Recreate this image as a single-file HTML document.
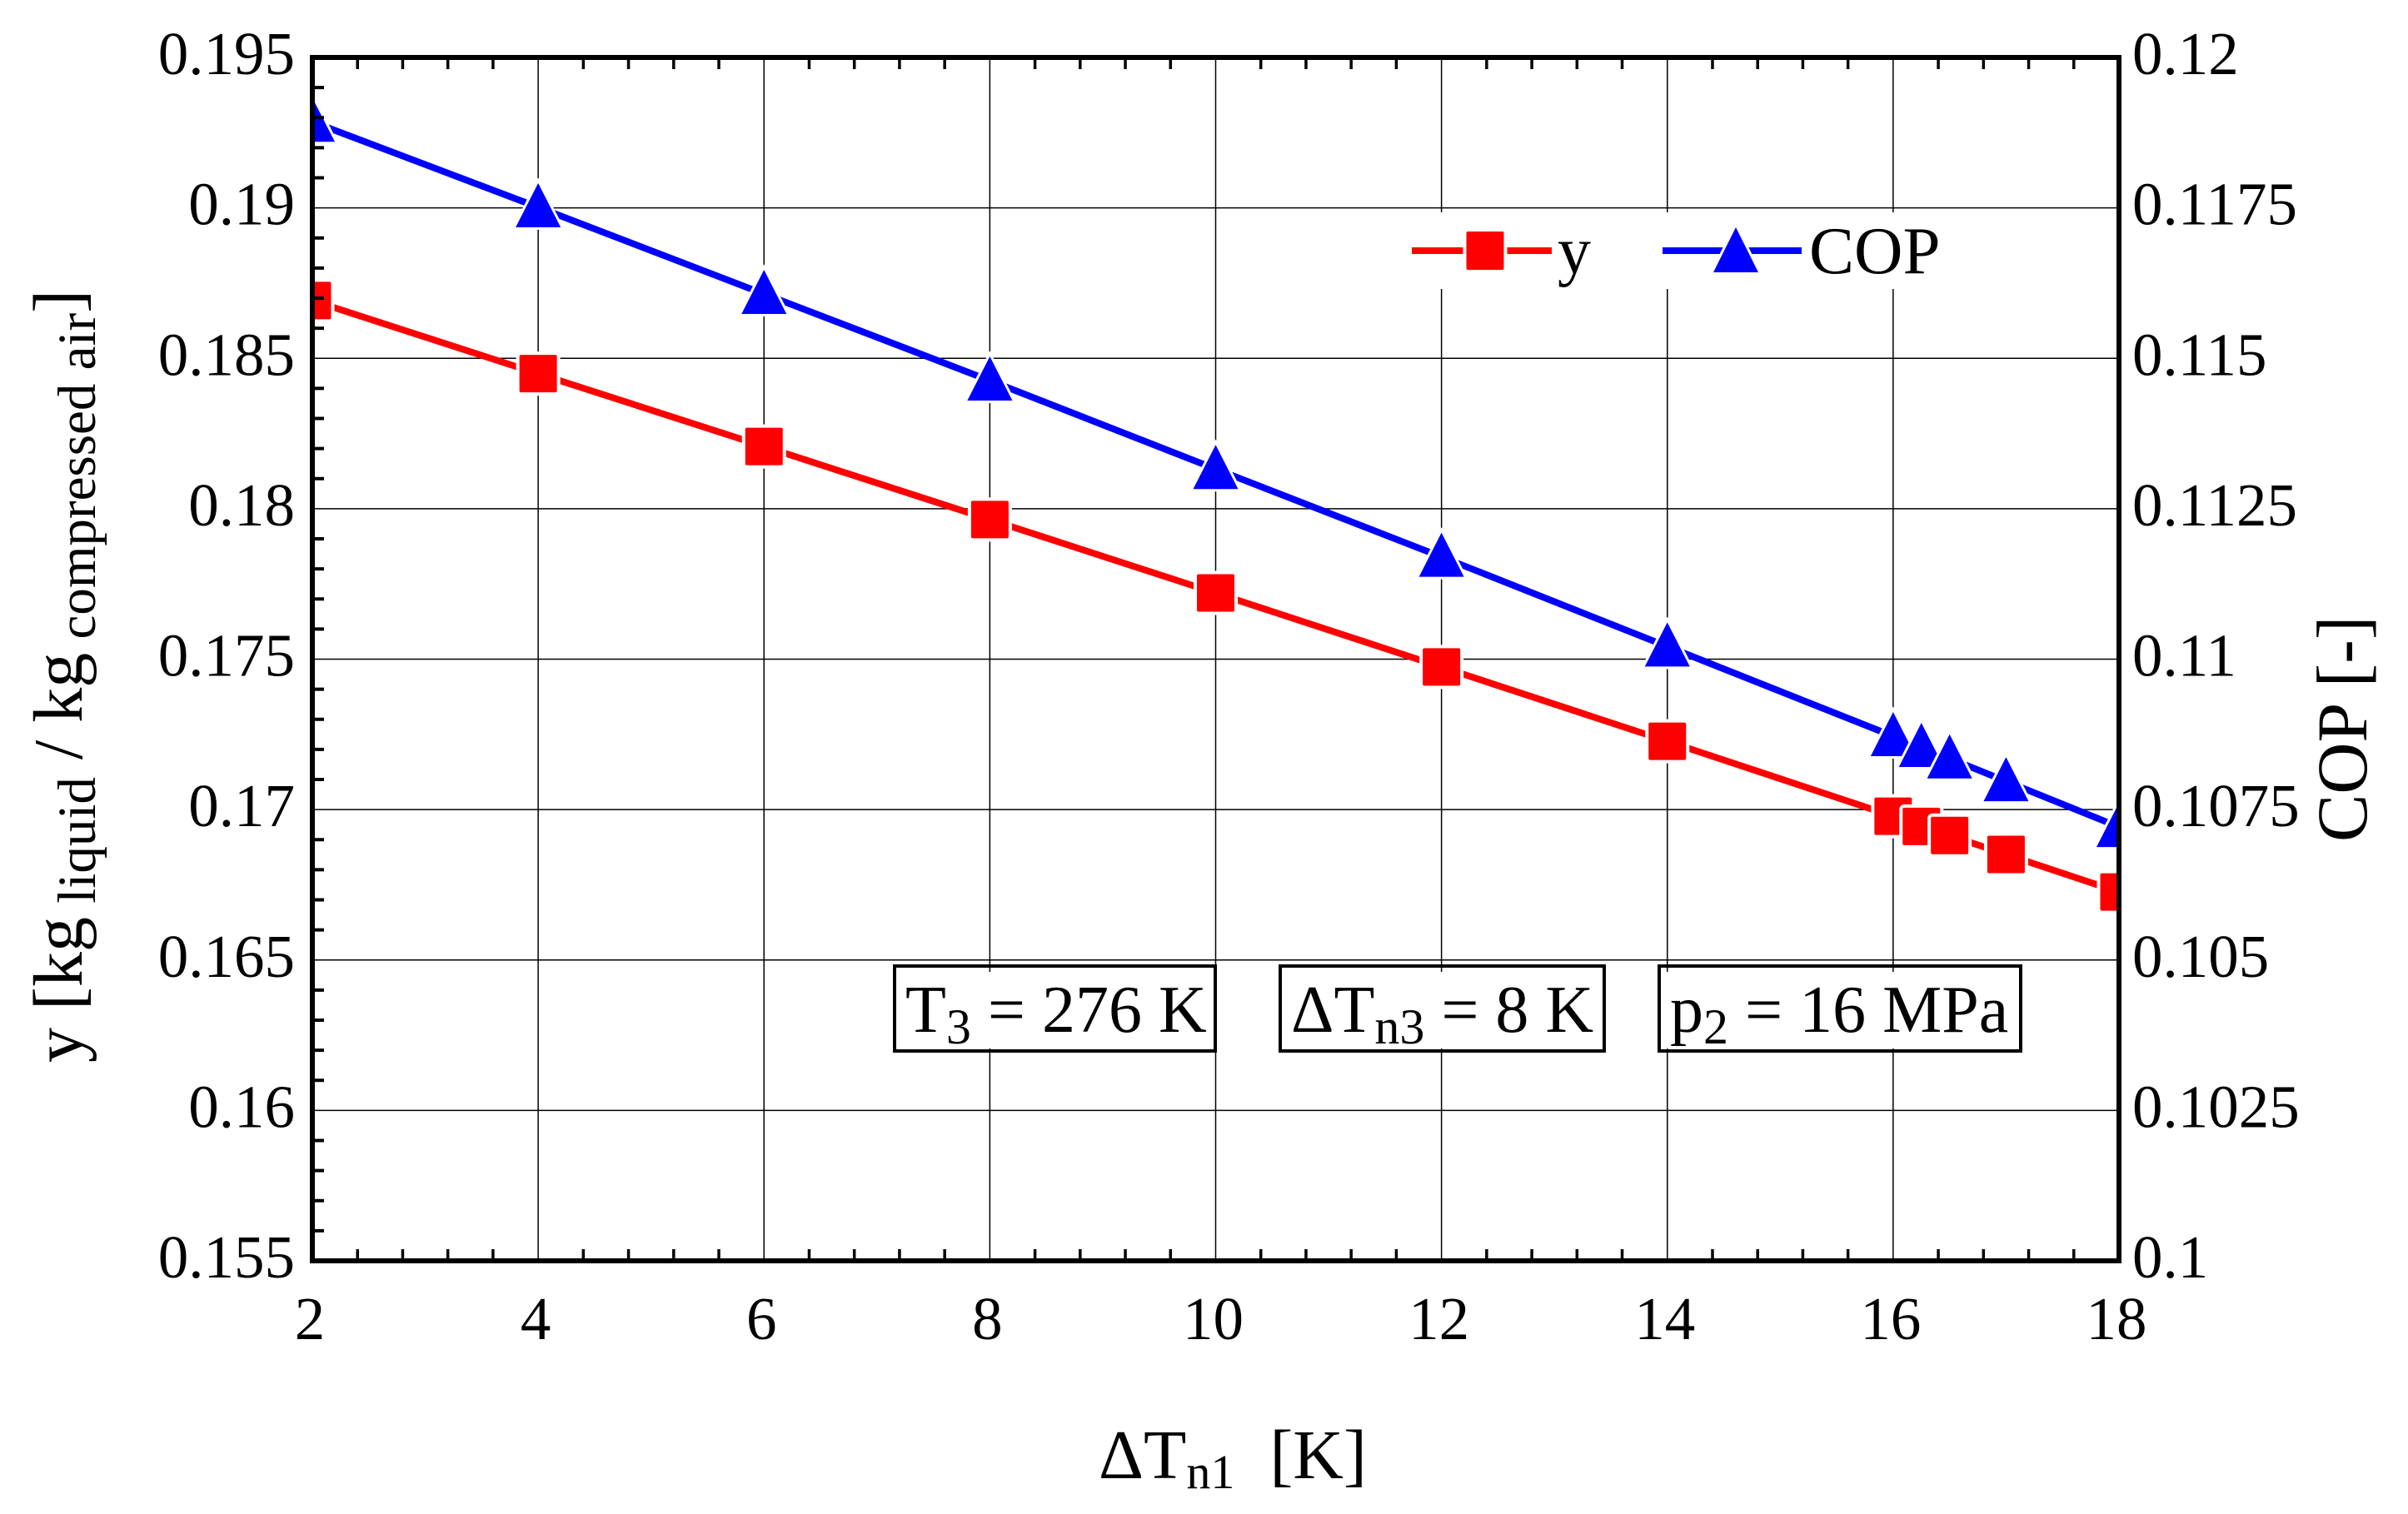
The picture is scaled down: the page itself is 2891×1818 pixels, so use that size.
<!DOCTYPE html>
<html>
<head>
<meta charset="utf-8">
<title>y and COP vs temperature difference</title>
<style>
html,body{margin:0;padding:0;background:#fff;}
svg{display:block;}
text{font-family:"Liberation Serif",serif;fill:#000;}
</style>
</head>
<body>
<svg id="chart" xmlns="http://www.w3.org/2000/svg" width="2891" height="1818" viewBox="0 0 2891 1818">
<rect x="0" y="0" width="2891" height="1818" fill="#fff"/>
<defs><clipPath id="plot-clip"><rect x="375" y="69" width="2169" height="1445"/></clipPath></defs>
<g id="grid"></g>
<rect x="1680" y="255" width="660" height="92" fill="#fff"/>
<g id="series" clip-path="url(#plot-clip)"></g>
<g id="axes"></g>
<g id="labels"></g>

<g>
  <g>
    <line x1="1695" y1="301" x2="1863" y2="301" stroke="#f00" stroke-width="8"/>
    <rect x="1760.5" y="278" width="45" height="46" rx="2" fill="#f00" stroke="#fff" stroke-width="8" paint-order="stroke"/>
    <text x="1870" y="328" font-size="80">y</text>
  </g>
  <g>
    <line x1="1996" y1="301" x2="2163" y2="301" stroke="#00f" stroke-width="8"/>
    <polygon points="2084,273 2111,327 2057,327" fill="#00f" stroke="#fff" stroke-width="6" paint-order="stroke"/>
    <text x="2172" y="328" font-size="81">COP</text>
  </g>
</g>

<g>
  <rect x="1074" y="1167" width="385" height="92" fill="#fff"/>
  <rect x="1074" y="1160" width="385" height="102" fill="none" stroke="#000" stroke-width="4"/>
  <text x="1087" y="1239" font-size="80">T<tspan font-size="60" dy="14">3</tspan><tspan dy="-14"> = 276 K</tspan></text>
</g>
<g>
  <rect x="1537" y="1167" width="389" height="92" fill="#fff"/>
  <rect x="1537" y="1160" width="389" height="102" fill="none" stroke="#000" stroke-width="4"/>
  <text x="1550" y="1239" font-size="80">ΔT<tspan font-size="60" dy="14">n3</tspan><tspan dy="-14"> = 8 K</tspan></text>
</g>
<g>
  <rect x="1992" y="1167" width="434" height="92" fill="#fff"/>
  <rect x="1992" y="1160" width="434" height="102" fill="none" stroke="#000" stroke-width="4"/>
  <text x="2005" y="1239" font-size="80">p<tspan font-size="60" dy="14">2</tspan><tspan dy="-14"> = 16 MPa</tspan></text>
</g>

<text x="1319" y="1775" font-size="84">ΔT<tspan font-size="58" dy="12">n1</tspan><tspan dy="-12" xml:space="preserve">  [K]</tspan></text>
<text transform="translate(98,1276) rotate(-90)" font-size="84">y [kg<tspan font-size="65" dy="16"> liquid</tspan><tspan dy="-16"> / kg</tspan><tspan font-size="65" dy="16"> compressed air</tspan><tspan dy="-16">]</tspan></text>
<text transform="translate(2841,1011) rotate(-90)" font-size="86">COP [-]</text>
</svg>

<script>
const xTicks = [2, 4, 6, 8, 10, 12, 14, 16, 18];
const yTicks = [0.155, 0.16, 0.165, 0.17, 0.175, 0.18, 0.185, 0.19, 0.195];
const copTicks = [0.1, 0.1025, 0.105, 0.1075, 0.11, 0.1125, 0.115, 0.1175, 0.12];
const yTickLabels = ['0.155', '0.16', '0.165', '0.17', '0.175', '0.18', '0.185', '0.19', '0.195'];
const copTickLabels = ['0.1', '0.1025', '0.105', '0.1075', '0.11', '0.1125', '0.115', '0.1175', '0.12'];
const xValues = [2, 4, 6, 8, 10, 12, 14, 16, 16.25, 16.5, 17, 18];
const yValues = [0.18692, 0.18449, 0.18207, 0.17964, 0.17720, 0.17474, 0.17227, 0.16978, 0.16944, 0.16914, 0.16851, 0.16726];
const copValues = [0.11893, 0.11751, 0.11607, 0.11463, 0.11316, 0.11170, 0.11021, 0.10872, 0.10854, 0.10835, 0.10797, 0.10721];

const NS = 'http://www.w3.org/2000/svg';
const L = 375, R = 2544, T = 69, B = 1514;
const sx = v => L + (v - 2) / (18 - 2) * (R - L);
const sy = v => B - (v - 0.155) / (0.195 - 0.155) * (B - T);
const sc = v => B - (v - 0.1) / (0.12 - 0.1) * (B - T);

function mk(parent, tag, attrs) {
  const el = document.createElementNS(NS, tag);
  for (const k in attrs) el.setAttribute(k, attrs[k]);
  parent.appendChild(el);
  return el;
}

const grid = document.getElementById('grid');
const axes = document.getElementById('axes');
const labels = document.getElementById('labels');
const series = document.getElementById('series');

xTicks.slice(1, -1).forEach(v => {
  const el = mk(grid, 'line', {x1: sx(v), y1: T, x2: sx(v), y2: B, stroke: '#000', 'stroke-width': 1.5});
  
  
});
yTicks.slice(1, -1).forEach(v => {
  const el = mk(grid, 'line', {x1: L, y1: sy(v), x2: R, y2: sy(v), stroke: '#000', 'stroke-width': 1.5});
  
  
});

function drawSeries(values, scale, color, kind) {
  const pts = xValues.map((x, i) => sx(x) + ',' + scale(values[i])).join(' ');
  const line = mk(series, 'polyline', {points: pts, fill: 'none', stroke: color, 'stroke-width': 8});
  
  
  xValues.forEach((x, i) => {
    const cx = sx(x), cy = scale(values[i]);
    let m;
    if (kind === 'square') {
      m = mk(series, 'rect', {x: cx - 22.5, y: cy - 22.5, width: 45, height: 45, rx: 2, fill: color, stroke: '#fff', 'stroke-width': 8, 'paint-order': 'stroke'});
    } else {
      m = mk(series, 'polygon', {points: cx + ',' + (cy - 29) + ' ' + (cx + 27) + ',' + (cy + 24) + ' ' + (cx - 27) + ',' + (cy + 24), fill: color, stroke: '#fff', 'stroke-width': 6, 'paint-order': 'stroke'});
    }
    
    
  });
}
drawSeries(yValues, sy, '#f00', 'square');
drawSeries(copValues, sc, '#00f', 'triangle');

for (let i = 0; i < xTicks.length - 1; i++) {
  for (let j = 1; j < 5; j++) {
    const px = sx(xTicks[i] + (xTicks[i + 1] - xTicks[i]) * j / 5);
    const top = mk(axes, 'line', {x1: px, y1: T, x2: px, y2: T + 14, stroke: '#000', 'stroke-width': 3.5});
    
    
    const bot = mk(axes, 'line', {x1: px, y1: B, x2: px, y2: B - 14, stroke: '#000', 'stroke-width': 3.5});
    
    
  }
}
for (let i = 0; i < yTicks.length - 1; i++) {
  for (let j = 1; j < 5; j++) {
    const py = sy(yTicks[i] + (yTicks[i + 1] - yTicks[i]) * j / 5);
    const t = mk(axes, 'line', {x1: L, y1: py, x2: L + 14, y2: py, stroke: '#000', 'stroke-width': 4});
    
    
  }
}
const frame = mk(axes, 'rect', {x: L, y: T, width: R - L, height: B - T, fill: 'none', stroke: '#000', 'stroke-width': 6});



xTicks.forEach(v => {
  const t = mk(labels, 'text', {x: sx(v) - 3, y: 1608, 'font-size': 73, 'text-anchor': 'middle'});
  t.textContent = String(v);
  
  
});
yTicks.forEach((v, i) => {
  const t = mk(labels, 'text', {x: 354, y: sy(v) + 20, 'font-size': 73, 'text-anchor': 'end'});
  t.textContent = yTickLabels[i];
  
  
});
copTicks.forEach((v, i) => {
  const t = mk(labels, 'text', {x: 2560, y: sc(v) + 20, 'font-size': 73});
  t.textContent = copTickLabels[i];
  
  
});
</script>
</body>
</html>
